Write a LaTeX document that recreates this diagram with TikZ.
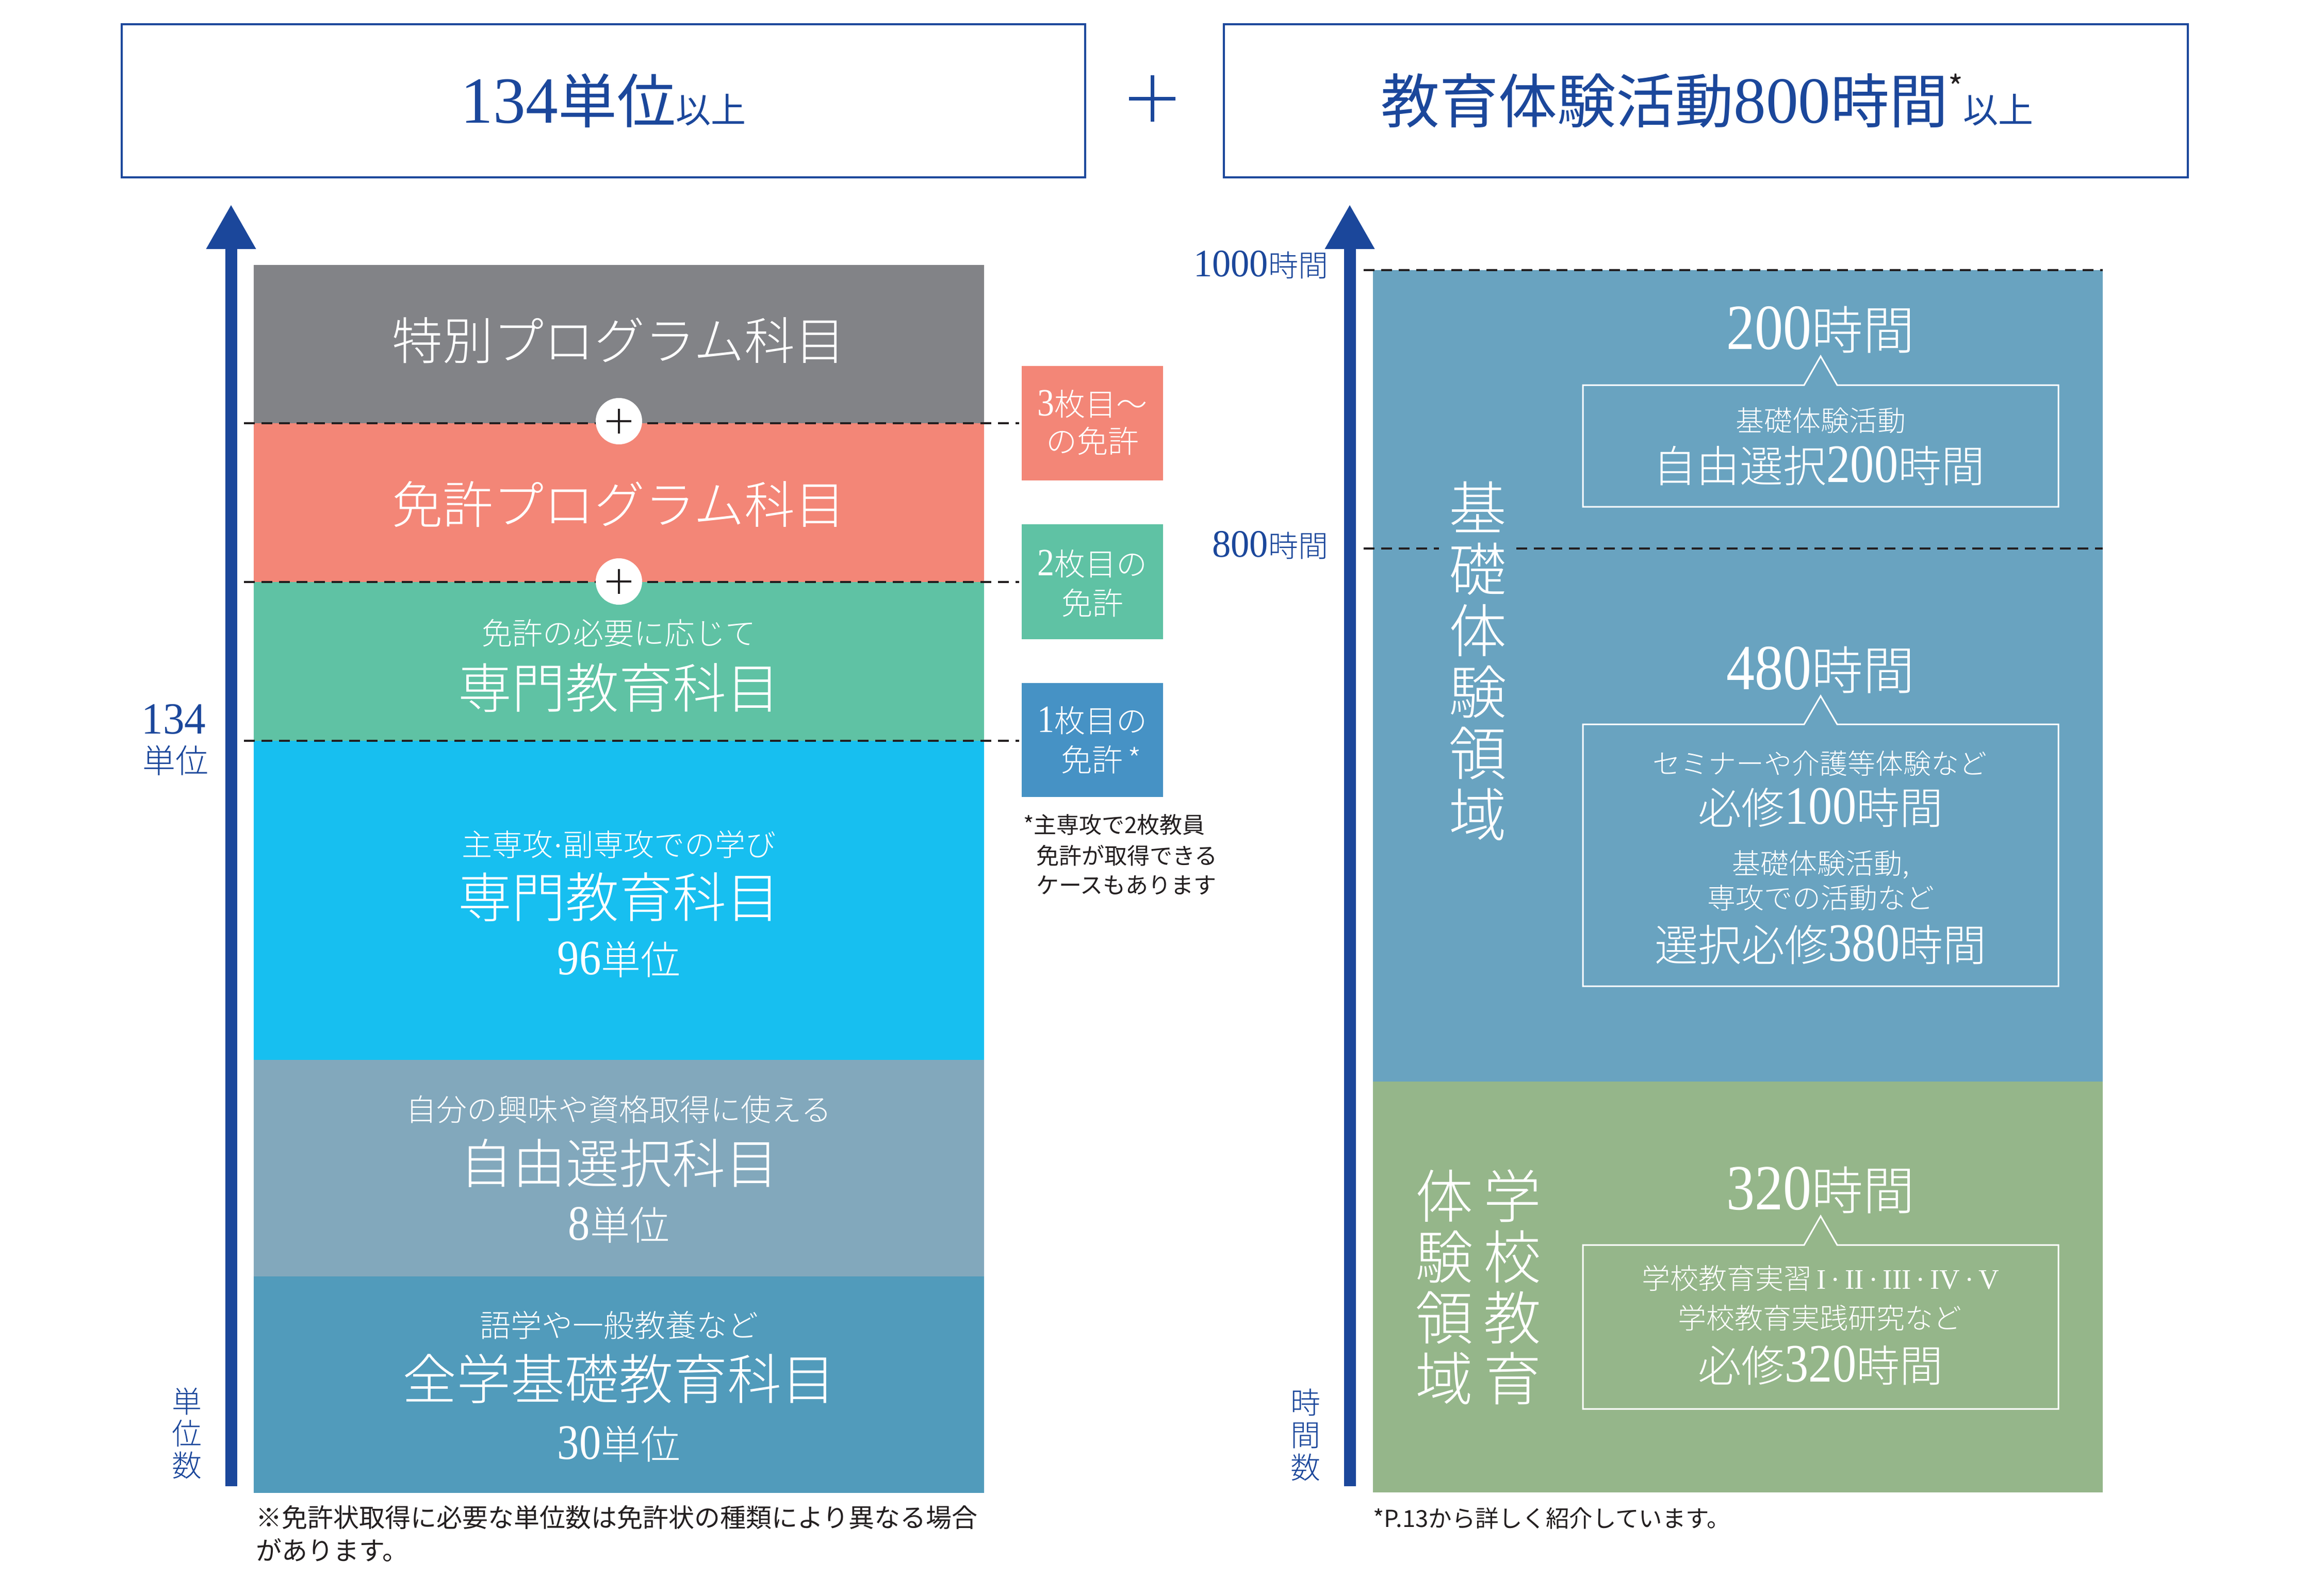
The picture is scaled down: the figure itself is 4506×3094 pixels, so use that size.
\documentclass[tikz,border=0pt]{standalone}
\usepackage{fontspec}
\usepackage{graphicx}
\setmainfont{Noto Sans CJK JP}
\newfontfamily\jpl{Noto Sans CJK JP Light}
\newfontfamily\numf{Liberation Serif}
\usetikzlibrary{arrows.meta}
\definecolor{navy}{RGB}{27,71,155}
\definecolor{pgray}{RGB}{130,131,135}
\definecolor{psalmon}{RGB}{243,134,119}
\definecolor{pgreen}{RGB}{95,194,164}
\definecolor{pcyan}{RGB}{23,191,240}
\definecolor{pgblue}{RGB}{130,168,188}
\definecolor{pteal}{RGB}{81,155,187}
\definecolor{plic}{RGB}{70,146,197}
\definecolor{rblue}{RGB}{105,163,192}
\definecolor{rgreen}{RGB}{149,182,138}
\definecolor{ink}{RGB}{35,31,32}
\newcommand\fsz[1]{\fontsize{#1}{#1}\selectfont}
\newcommand\dgx[3]{\scalebox{#1}[#2]{\numf #3}}
\newcommand\dg[1]{\dgx{1.1}{1.25}{#1}}
\newcommand\mdot{{\numf\char"00B7}}
\tikzset{
  lbl/.style={inner sep=0pt, outer sep=0pt},
  wt/.style={lbl, text=white},
  nv/.style={lbl, text=navy},
  ik/.style={lbl, text=ink},
  titlebox/.style={draw=navy, line width=4pt},
  axisline/.style={draw=navy, line width=23pt},
  axishead/.style={fill=navy},
  dashln/.style={draw=ink, line width=4pt, dash pattern=on 21pt off 13pt},
  pluscirc/.style={circle, fill=white, minimum size=90pt, inner sep=0pt},
  plusbar/.style={draw=ink, line width=3.5pt},
  callout/.style={draw=white, line width=3pt},
}
\begin{document}
\begin{tikzpicture}[x=1pt,y=-1pt]
\useasboundingbox[fill=white] (0,0) rectangle (4506,3094);

% ---------- title boxes ----------
\draw[titlebox] (236,47) rectangle (2104,344);
\draw[titlebox] (2373,47) rectangle (4242,344);
\node[nv, anchor=base, font=\fsz{114}] (title1) at (1170,238) {\dgx{1.1}{1.12}{134}単位{\fsz{68}以上}};
\node[nv, anchor=base, font=\fsz{114}] (title2) at (3310,238) {教育体験活動\dgx{1.1}{1.12}{800}時間\raisebox{0.4em}{\color{ink}\fsz{62}*}{\fsz{68}以上}};
\coordinate (pm) at (2234,191);
\draw[navy, line width=7pt] ([xshift=-45pt]pm) -- ([xshift=45pt]pm);
\draw[navy, line width=7pt] ([yshift=-45pt]pm) -- ([yshift=45pt]pm);

% ---------- axes ----------
\coordinate (lax0) at (448,2883);
\coordinate (laxh) at (448,480);
\coordinate (laxt) at (448,398);
\draw[axisline] (lax0) -- (laxh);
\fill[axishead] (laxt) -- (399.5,483) -- (496.5,483) -- cycle;
\coordinate (rax0) at (2617,2883);
\coordinate (raxh) at (2617,480);
\coordinate (raxt) at (2617,398);
\draw[axisline] (rax0) -- (raxh);
\fill[axishead] (raxt) -- (2568.5,483) -- (2665.5,483) -- cycle;

% ---------- left blocks ----------
\fill[pgray]   (492,514)  rectangle (1908,821);
\fill[psalmon] (492,821)  rectangle (1908,1129);
\fill[pgreen]  (492,1129) rectangle (1908,1437);
\fill[pcyan]   (492,1437) rectangle (1908,2056);
\fill[pgblue]  (492,2056) rectangle (1908,2476);
\fill[pteal]   (492,2476) rectangle (1908,2896);

% license boxes
\fill[psalmon] (1981,710)  rectangle (2255,932);
\fill[pgreen]  (1981,1017) rectangle (2255,1240);
\fill[plic]    (1981,1325) rectangle (2255,1546);

% dashed separators
\coordinate (d1a) at (473,821);  \coordinate (d1b) at (1976,821);
\coordinate (d2a) at (473,1129); \coordinate (d2b) at (1976,1129);
\coordinate (d3a) at (473,1437); \coordinate (d3b) at (1976,1437);
\draw[dashln] (d1a) -- (d1b);
\draw[dashln] (d2a) -- (d2b);
\draw[dashln] (d3a) -- (d3b);

% plus circles
\node[pluscirc] (pc1) at (1200,817) {};
\node[pluscirc] (pc2) at (1200,1128) {};
\foreach \p in {pc1,pc2}{
  \draw[plusbar] ([xshift=-24pt]\p.center) -- ([xshift=24pt]\p.center);
  \draw[plusbar] ([yshift=-24pt]\p.center) -- ([yshift=24pt]\p.center);
}

% ---------- right blocks ----------
\fill[rblue]  (2662,524)  rectangle (4077,2098);
\fill[rgreen] (2662,2098) rectangle (4077,2895);
\coordinate (r1a) at (2644,524); \coordinate (r1b) at (4077,524);
\coordinate (r2a) at (2644,1064); \coordinate (r2m) at (2790,1064);
\coordinate (r2n) at (2940,1064); \coordinate (r2b) at (4077,1064);
\draw[dashln] (r1a) -- (r1b);
\draw[dashln] (r2a) -- (r2m);
\draw[dashln] (r2n) -- (r2b);

% callout frames
\draw[callout] (3069,747) -- (3498,747) -- (3530,691) -- (3562,747) -- (3991,747) -- (3991,983) -- (3069,983) -- cycle;
\draw[callout] (3069,1405) -- (3498,1405) -- (3530,1350) -- (3562,1405) -- (3991,1405) -- (3991,1913) -- (3069,1913) -- cycle;
\draw[callout] (3069,2415) -- (3498,2415) -- (3530,2359) -- (3562,2415) -- (3991,2415) -- (3991,2733) -- (3069,2733) -- cycle;

% ---------- texts (light) ----------
\node[wt, font=\jpl\fsz{98}] (tok) at (1200,660) {特別プログラム科目};
\node[wt, font=\jpl\fsz{98}] (men) at (1200,978) {免許プログラム科目};
\node[wt, font=\jpl\fsz{59}] (sen1s) at (1200,1228) {免許の必要に応じて};
\node[wt, font=\jpl\fsz{104}] (sen1) at (1200,1334) {専門教育科目};
\node[wt, font=\jpl\fsz{59}] (sen2s) at (1200,1638) {主専攻\mdot 副専攻での学び};
\node[wt, font=\jpl\fsz{104}] (sen2) at (1200,1740) {専門教育科目};
\node[wt, font=\jpl\fsz{77}, anchor=base] (sen2u) at (1200,1890) {\dg{96}単位};
\node[wt, font=\jpl\fsz{59}] (jiys) at (1200,2152) {自分の興味や資格取得に使える};
\node[wt, font=\jpl\fsz{103}] (jiy) at (1200,2256) {自由選択科目};
\node[wt, font=\jpl\fsz{77}, anchor=base] (jiyu) at (1200,2405) {\dg{8}単位};
\node[wt, font=\jpl\fsz{60}] (zens) at (1200,2571) {語学や一般教養など};
\node[wt, font=\jpl\fsz{105}] (zen) at (1200,2674) {全学基礎教育科目};
\node[wt, font=\jpl\fsz{77}, anchor=base] (zenu) at (1200,2830) {\dg{30}単位};

\node[wt, font=\jpl\fsz{60}] (l1a) at (2118,784) {\dg{3}枚目〜};
\node[wt, font=\jpl\fsz{60}] (l1b) at (2118,856) {の免許};
\node[wt, font=\jpl\fsz{60}] (l2a) at (2118,1094) {\dg{2}枚目の};
\node[wt, font=\jpl\fsz{60}] (l2b) at (2118,1170) {免許};
\node[wt, font=\jpl\fsz{60}] (l3a) at (2118,1398) {\dg{1}枚目の};
\node[wt, font=\jpl\fsz{60}, anchor=west] (l3b) at (2057,1474) {免許\,*};

\node[nv, font=\jpl\fsz{64}, anchor=base] (ax134) at (337,1423) {\dgx{1.3}{1.35}{134}};
\node[nv, font=\jpl\fsz{64}] (axtani) at (340,1475) {単位};
\node[nv, font=\jpl\fontsize{58}{62}\selectfont, align=center] (axtanisu) at (362,2780) {単\\位\\数};
\node[nv, font=\jpl\fsz{58}, anchor=base east] (ax1000) at (2575,536) {\dgx{1.25}{1.3}{1000}時間};
\node[nv, font=\jpl\fsz{58}, anchor=base east] (ax800) at (2575,1080) {\dgx{1.25}{1.3}{800}時間};
\node[nv, font=\jpl\fontsize{58}{63}\selectfont, align=center] (axjikan) at (2531,2783) {時\\間\\数};

\node[wt, font=\jpl\fontsize{112}{119}\selectfont, align=center] (kiso) at (2865,1282) {基\\礎\\体\\験\\領\\域};
\node[wt, font=\jpl\fontsize{112}{118}\selectfont, align=center] (gak1) at (2932,2497) {学\\校\\教\\育};
\node[wt, font=\jpl\fontsize{112}{118}\selectfont, align=center] (gak2) at (2800,2497) {体\\験\\領\\域};

\node[wt, font=\jpl\fsz{100}, anchor=base] (h200) at (3530,677) {\dg{200}時間};
\node[wt, font=\jpl\fsz{55}] (c1a) at (3530,816) {基礎体験活動};
\node[wt, font=\jpl\fsz{84}, anchor=base] (c1b) at (3527,935) {自由選択\dg{200}時間};

\node[wt, font=\jpl\fsz{100}, anchor=base] (h480) at (3530,1337) {\dg{480}時間};
\node[wt, font=\jpl\fsz{54}] (c2a) at (3528,1481) {セミナーや介護等体験など};
\node[wt, font=\jpl\fsz{84}, anchor=base] (c2b) at (3530,1598) {必修\dg{100}時間};
\node[wt, font=\jpl\fsz{55}] (c2c) at (3530,1677) {基礎体験活動,};
\node[wt, font=\jpl\fsz{55}] (c2d) at (3530,1742) {専攻での活動など};
\node[wt, font=\jpl\fsz{84}, anchor=base] (c2e) at (3530,1864) {選択必修\dg{380}時間};

\node[wt, font=\jpl\fsz{100}, anchor=base] (h320) at (3530,2346) {\dg{320}時間};
\node[wt, font=\jpl\fsz{55}] (c3a) at (3530,2480) {学校教育実習\,{\numf I}\,\mdot\,{\numf II}\,\mdot\,{\numf III}\,\mdot\,{\numf IV}\,\mdot\,{\numf V}};
\node[wt, font=\jpl\fsz{55}] (c3b) at (3528,2557) {学校教育実践研究など};
\node[wt, font=\jpl\fsz{84}, anchor=base] (c3c) at (3530,2680) {必修\dg{320}時間};

% ---------- footnotes ----------
\node[ik, font=\fsz{44}, anchor=west] (fn1) at (1984,1600) {*主専攻で2枚教員};
\node[ik, font=\fsz{44}, anchor=west] (fn2) at (2009,1660) {免許が取得できる};
\node[ik, font=\fsz{44}, anchor=west] (fn3) at (2009,1717) {ケースもあります};
\node[ik, font=\fsz{50}, anchor=west] (lfn1) at (496,2943) {※免許状取得に必要な単位数は免許状の種類により異なる場合};
\node[ik, font=\fsz{50}, anchor=west] (lfn2) at (496,3007) {があります。};
\node[ik, font=\fsz{45.5}, anchor=west] (rfn) at (2662,2945) {*P.13から詳しく紹介しています。};
\end{tikzpicture}
\end{document}
